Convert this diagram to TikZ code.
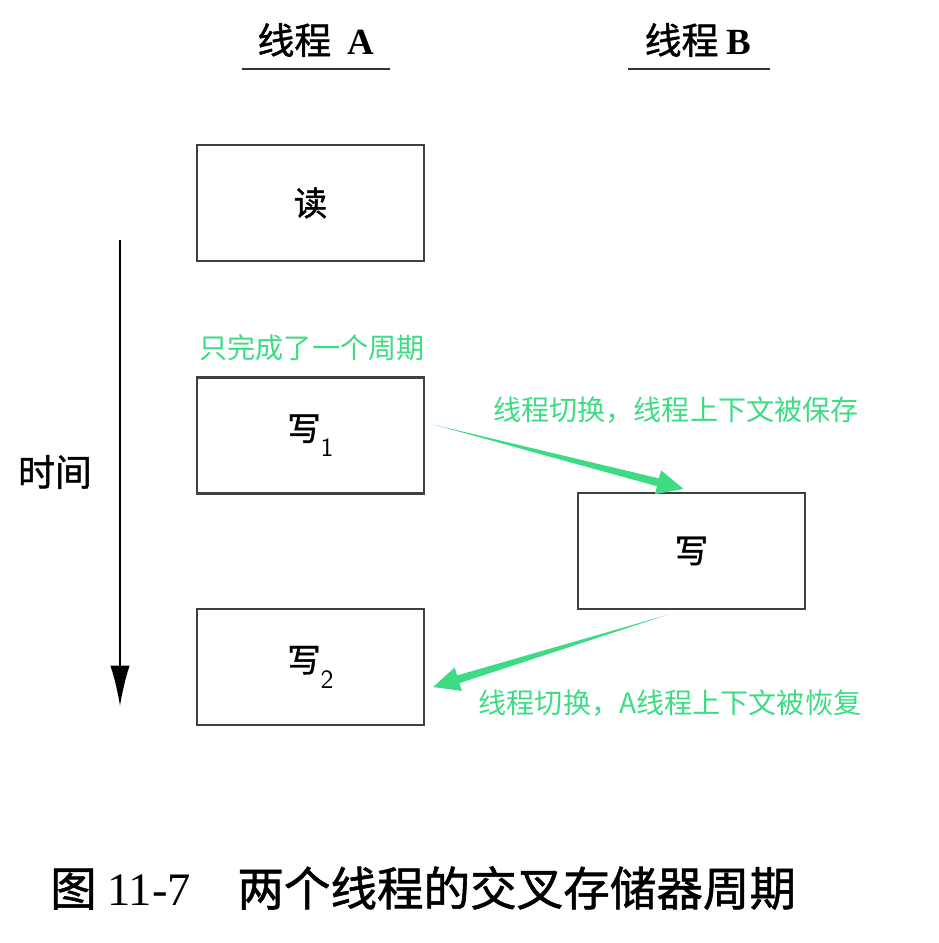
\documentclass[tikz,border=0pt]{standalone}
\usepackage{fontspec}
\setmainfont{Liberation Serif}
\newfontfamily\cjk{Noto Sans CJK SC}
\newfontfamily\cjkb[FakeBold=1.2]{Noto Sans CJK SC}
\usetikzlibrary{calc,arrows.meta}
\definecolor{grn}{RGB}{61,220,132}
\tikzset{
  blk/.style={draw=black!75, line width=1.3pt, minimum width=4.54cm, minimum height=2.32cm, inner sep=0pt, font=\fontsize{19}{19}\selectfont},
  hdr/.style={font=\fontsize{21}{21}\selectfont},
  note/.style={text=grn, font=\fontsize{16}{16}\cjk},
  uline/.style={draw=black!80, line width=1.6pt}
}
\begin{document}
\begin{tikzpicture}[x=0.02cm, y=-0.02cm]
\useasboundingbox (0,0) rectangle (938,943);

% Column titles
\node[hdr] (ta) at (316,40) {\cjkb 线程\ \ \rmfamily\bfseries A};
\node[hdr] (tb) at (698,40) {\cjkb 线程\ \rmfamily\bfseries B};
\draw[uline] (242,69) -- (390,69);
\draw[uline] (628,69) -- (770,69);

% Boxes of thread A
\node[blk] (rd) at (310.5,203) {\cjkb 读};
\node[blk] (wa) at (310.5,435.5) {\cjkb 写\raisebox{-9pt}{\fontsize{15}{15}\selectfont\sffamily 1}};
\node[blk] (wc) at (310.5,667) {\cjkb 写\raisebox{-9pt}{\fontsize{15}{15}\selectfont\sffamily 2}};

% Box of thread B
\node[blk] (wb) at (691.5,551) {\cjkb 写};

% Time axis
\coordinate (t0) at (120,240);
\coordinate (t1) at (120,706);
\draw[line width=0.9pt, -{Latex[length=23pt,width=11pt]}] (t0) -- (t1);
\node[hdr] (tm) at (55,472) {\cjkb 时间};

% Notes
\node[note] (n0) at (312,348) {只完成了一个周期};
\node[note] (n1) at (676,410) {线程切换，线程上下文被保存};
\node[note] (n2) at (670,703) {线程切换，A线程上下文被恢复};

% Switch A -> B
\coordinate (s1) at ($(wa.east)+(8,-11)$);
\coordinate (e1) at ($(wb.north)+(-8,-3)$);
\coordinate (h1) at ($(e1)!15pt!(s1)$);
\fill[grn] (s1) -- ($(h1)!2.3pt!90:(e1)$) -- ($(h1)!7pt!90:(e1)$) -- (e1)
  -- ($(h1)!7pt!-90:(e1)$) -- ($(h1)!2.3pt!-90:(e1)$) -- cycle;

% Switch B -> A
\coordinate (s2) at ($(wb.south)+(-25,5)$);
\coordinate (e2) at ($(wc.east)+(8,20)$);
\coordinate (h2) at ($(e2)!15pt!(s2)$);
\fill[grn] (s2) -- ($(h2)!2.3pt!90:(e2)$) -- ($(h2)!7pt!90:(e2)$) -- (e2)
  -- ($(h2)!7pt!-90:(e2)$) -- ($(h2)!2.3pt!-90:(e2)$) -- cycle;

% Caption
\node[anchor=west, font=\fontsize{26.5}{26.5}\selectfont] (cap) at (44,888) {\cjkb 图\ \rmfamily 11-7\quad\cjkb 两个线程的交叉存储器周期};
\end{tikzpicture}
\end{document}
